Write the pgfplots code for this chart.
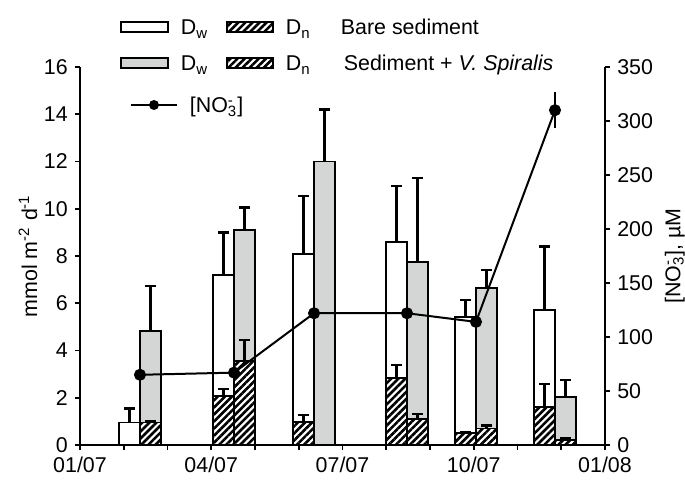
\documentclass[border=0pt]{standalone}
\usepackage{fontspec}
\setmainfont{Liberation Sans}
\usepackage{pgfplots}
\pgfplotsset{compat=1.18}
\usetikzlibrary{patterns.meta}
\definecolor{vgrey}{RGB}{212,214,214}
\tikzset{hatch/.style={fill=white, postaction={pattern={Lines[angle=45,distance=2.5pt,line width=1.3pt]}, pattern color=black}}}
\newcommand{\NOthree}{[NO\rlap{\textsuperscript{-}}\textsubscript{3}]}
\newcommand{\fs}{\fontsize{10.7}{12.8}\selectfont}
\pgfplotsset{
  common/.style={
    scale only axis, width=262.5pt, height=189pt,
    xmin=0, xmax=12,
    tick align=outside, major tick length=2.6pt,
    tick style={black, line width=0.9pt},
    axis line style={line width=0.9pt},
    /pgf/number format/assume math mode=true,
    tick label style={font=\fs},
    label style={font=\fs},
  },
  barE/.style={forget plot, draw=none, mark=none,
    error bars/.cd, y dir=plus, y explicit,
    error bar style={line width=1.15pt, draw=black, solid},
    error mark=-,
    error mark options={line width=1.15pt, mark size=2.6pt, draw=black, rotate=90}},
  barS/.style={ybar, bar width=0.48, bar shift=0pt, draw=black, line width=0.9pt},
}
\begin{document}
\begin{tikzpicture}
\begin{axis}[common,
  ymin=0, ymax=16, ytick={0,2,...,16},
  axis x line*=bottom, axis y line*=left,
  xtick={0,1,...,12},
  xticklabels={01/07,,,04/07,,,07/07,,,10/07,,,01/08},
  ylabel={mmol m\textsuperscript{-2} d\textsuperscript{-1}},
  ylabel style={at={(axis description cs:-0.099,0.5)}, anchor=center},
]
% Bare sediment Dw
\addplot[barS, fill=white]
 coordinates {(1.131,0.95) (3.28,7.2) (5.109,8.1) (7.234,8.6) (8.811,5.43) (10.617,5.73)};
\addplot[barE]
 coordinates {(1.131,0.95) +- (0,0.6) (3.28,7.2) +- (0,1.8) (5.109,8.1) +- (0,2.45)
              (7.234,8.6) +- (0,2.35) (8.811,5.43) +- (0,0.7) (10.617,5.73) +- (0,2.67)};
% Bare sediment Dn
\addplot[barS, hatch]
 coordinates {(3.28,2.08) (5.109,0.98) (7.234,2.85) (8.811,0.5) (10.617,1.62)};
\addplot[barE]
 coordinates {(3.28,2.08) +- (0,0.3) (5.109,0.98) +- (0,0.3)
              (7.234,2.85) +- (0,0.55) (8.811,0.5) +- (0,0.05) (10.617,1.62) +- (0,0.95)};
% Vegetated Dw
\addplot[barS, fill=vgrey]
 coordinates {(1.611,4.84) (3.76,9.1) (5.589,12.0) (7.714,7.75) (9.291,6.63) (11.097,2.02)};
\addplot[barE]
 coordinates {(1.611,4.84) +- (0,1.9) (3.76,9.1) +- (0,0.95) (5.589,12.0) +- (0,2.2)
              (7.714,7.75) +- (0,3.55) (9.291,6.63) +- (0,0.77) (11.097,2.02) +- (0,0.73)};
% Vegetated Dn
\addplot[barS, hatch]
 coordinates {(1.611,0.95) (3.76,3.56) (7.714,1.1) (9.291,0.7) (11.097,0.22)};
\addplot[barE]
 coordinates {(1.611,0.95) +- (0,0.05) (3.76,3.56) +- (0,0.88)
              (7.714,1.1) +- (0,0.2) (9.291,0.7) +- (0,0.12) (11.097,0.22) +- (0,0.05)};
\end{axis}
\begin{axis}[common,
  ymin=0, ymax=350, ytick={0,50,...,350},
  axis x line=none, axis y line*=right,
  ylabel={\NOthree, µM},
  ylabel style={at={(axis description cs:1.133,0.5)}, anchor=center},
]
\addplot[black, line width=1pt, mark=*, mark size=2.5pt,
  error bars/.cd, y dir=both, y explicit,
  error bar style={line width=1.15pt, black},
  error mark options={line width=1.15pt, mark size=2.6pt, black}]
 coordinates {(1.371,65) +- (0,3) (3.52,67) +- (0,3) (5.349,122) +- (0,4)
              (7.474,122) +- (0,6) (9.051,114) +- (0,4) (10.857,310) +- (0,12)};
\end{axis}
% legend
\begin{scope}[font=\fs, line width=0.9pt]
  \draw[fill=white] (20.4pt,206.5pt) rectangle (43.9pt,211.5pt);
  \node[anchor=base west, inner sep=0pt] at (50pt,205pt) {D\textsubscript{w}};
  \draw[hatch] (73.5pt,206.5pt) rectangle (96.5pt,211.5pt);
  \node[anchor=base west, inner sep=0pt] at (102.5pt,205pt) {D\textsubscript{n}};
  \node[anchor=base west, inner sep=0pt] at (130pt,205pt) {Bare sediment};
  \draw[fill=vgrey] (20.4pt,188.5pt) rectangle (43.9pt,193.5pt);
  \node[anchor=base west, inner sep=0pt] at (50pt,187pt) {D\textsubscript{w}};
  \draw[hatch] (73.5pt,188.5pt) rectangle (96.5pt,193.5pt);
  \node[anchor=base west, inner sep=0pt] at (102.5pt,187pt) {D\textsubscript{n}};
  \node[anchor=base west, inner sep=0pt] at (131.5pt,187pt) {Sediment + \textit{V. Spiralis}};
  \draw (25.4pt,170pt) -- (48.5pt,170pt);
  \fill (37pt,170pt) circle (2.5pt);
  \node[anchor=base west, inner sep=0pt] at (54.5pt,166pt) {\NOthree};
\end{scope}
\pgfresetboundingbox
\path[use as bounding box] (-40pt,-17.5pt) rectangle (302.5pt,222.5pt);
\end{tikzpicture}
\end{document}
